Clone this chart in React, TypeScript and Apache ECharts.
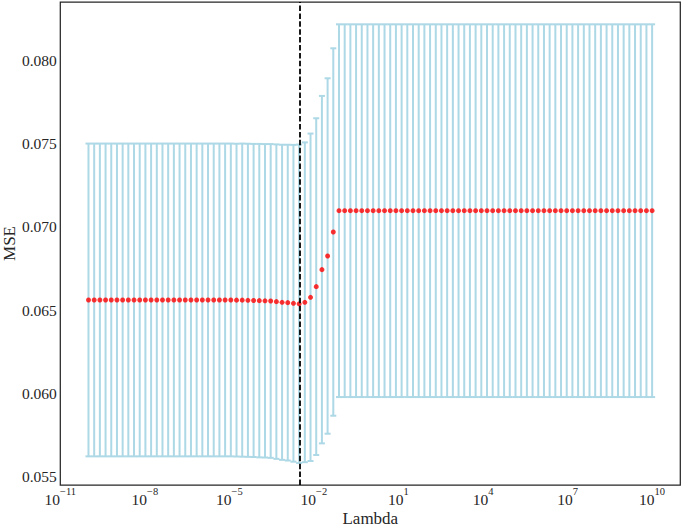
import React, { useEffect, useRef } from "react";
import * as echarts from "echarts";

// log10(lambda) grid of the cross-validation path
const logLambda = [
  -10.0, -9.798, -9.596, -9.394, -9.192, -8.99, -8.788, -8.586, -8.384, -8.182,
  -7.98, -7.778, -7.576, -7.374, -7.172, -6.97, -6.768, -6.566, -6.364, -6.162,
  -5.96, -5.758, -5.556, -5.354, -5.152, -4.949, -4.747, -4.545, -4.343, -4.141,
  -3.939, -3.737, -3.535, -3.333, -3.131, -2.929, -2.727, -2.525, -2.323, -2.121,
  -1.919, -1.717, -1.515, -1.313, -1.111, -0.909, -0.707, -0.505, -0.303, -0.101,
  0.101, 0.303, 0.505, 0.707, 0.909, 1.111, 1.313, 1.515, 1.717, 1.919,
  2.121, 2.323, 2.525, 2.727, 2.929, 3.131, 3.333, 3.535, 3.737, 3.939,
  4.141, 4.343, 4.545, 4.747, 4.949, 5.152, 5.354, 5.556, 5.758, 5.96,
  6.162, 6.364, 6.566, 6.768, 6.97, 7.172, 7.374, 7.576, 7.778, 7.98,
  8.182, 8.384, 8.586, 8.788, 8.99, 9.192, 9.394, 9.596, 9.798, 10.0,
];

// mean MSE across folds
const meanMSE = [
  0.06561, 0.06561, 0.06561, 0.06561, 0.06561, 0.06561, 0.06561, 0.06561, 0.06561, 0.06561,
  0.06561, 0.06561, 0.06561, 0.06561, 0.06561, 0.06561, 0.06561, 0.06561, 0.06561, 0.06561,
  0.06561, 0.06561, 0.06561, 0.06561, 0.06561, 0.06561, 0.0656, 0.0656, 0.06559, 0.06558,
  0.06557, 0.06556, 0.06555, 0.06551, 0.06547, 0.06545, 0.06541, 0.06538, 0.06547, 0.06577,
  0.06641, 0.06743, 0.06825, 0.06969, 0.07097, 0.07097, 0.07097, 0.07097, 0.07097, 0.07097,
  0.07097, 0.07097, 0.07097, 0.07097, 0.07097, 0.07097, 0.07097, 0.07097, 0.07097, 0.07097,
  0.07097, 0.07097, 0.07097, 0.07097, 0.07097, 0.07097, 0.07097, 0.07097, 0.07097, 0.07097,
  0.07097, 0.07097, 0.07097, 0.07097, 0.07097, 0.07097, 0.07097, 0.07097, 0.07097, 0.07097,
  0.07097, 0.07097, 0.07097, 0.07097, 0.07097, 0.07097, 0.07097, 0.07097, 0.07097, 0.07097,
  0.07097, 0.07097, 0.07097, 0.07097, 0.07097, 0.07097, 0.07097, 0.07097, 0.07097, 0.07097,
];

// error bar half-width (std of MSE across folds)
const stdMSE = [
  0.00939, 0.00939, 0.00939, 0.00939, 0.00939, 0.00939, 0.00939, 0.00939, 0.00939, 0.00939,
  0.00939, 0.00939, 0.00939, 0.00939, 0.00939, 0.00939, 0.00939, 0.00939, 0.00939, 0.00939,
  0.00939, 0.00939, 0.00939, 0.00939, 0.00939, 0.00939, 0.00939, 0.0094, 0.0094, 0.0094,
  0.00941, 0.00941, 0.00942, 0.00944, 0.00946, 0.00948, 0.00951, 0.00956, 0.0096, 0.00983,
  0.01011, 0.01043, 0.01067, 0.01103, 0.01119, 0.01119, 0.01119, 0.01119, 0.01119, 0.01119,
  0.01119, 0.01119, 0.01119, 0.01119, 0.01119, 0.01119, 0.01119, 0.01119, 0.01119, 0.01119,
  0.01119, 0.01119, 0.01119, 0.01119, 0.01119, 0.01119, 0.01119, 0.01119, 0.01119, 0.01119,
  0.01119, 0.01119, 0.01119, 0.01119, 0.01119, 0.01119, 0.01119, 0.01119, 0.01119, 0.01119,
  0.01119, 0.01119, 0.01119, 0.01119, 0.01119, 0.01119, 0.01119, 0.01119, 0.01119, 0.01119,
  0.01119, 0.01119, 0.01119, 0.01119, 0.01119, 0.01119, 0.01119, 0.01119, 0.01119, 0.01119,
];

const bestLogLambda = -2.525;

const xMin = -11;
const xMax = 11;
const xLabelExponents = [-11, -8, -5, -2, 1, 4, 7, 10];
const yMin = 0.0545;
const yMax = 0.0835;
const yLabelValues = [0.055, 0.06, 0.065, 0.07, 0.075, 0.08];

const FONT = "Liberation Serif";
const TEXT = "#262626";

export default function App() {
  const ref = useRef<HTMLDivElement>(null);

  useEffect(() => {
    if (!ref.current) return;
    const chart = echarts.init(ref.current, undefined, { renderer: "svg" });

    const errData = logLambda.map((x, i) => [x, meanMSE[i] - stdMSE[i], meanMSE[i] + stdMSE[i]]);
    const meanData = logLambda.map((x, i) => [x, meanMSE[i]]);

    const option: any = {
      animation: false,
      backgroundColor: "#ffffff",
      textStyle: { fontFamily: FONT },
      grid: {
        left: 60.3,
        right: 2.7,
        top: 2,
        bottom: 42,
        containLabel: false,
        outerBoundsMode: "none",
        show: true,
        borderColor: TEXT,
        borderWidth: 1.25,
        backgroundColor: "transparent",
      },
      xAxis: {
        type: "value",
        min: xMin,
        max: xMax,
        interval: 1,
        name: "Lambda",
        nameLocation: "middle",
        nameGap: 25,
        nameMoveOverlap: false,
        nameTextStyle: { fontFamily: FONT, fontSize: 17, color: TEXT, lineHeight: 17 },
        axisLine: { show: false },
        axisTick: { show: false },
        splitLine: { show: false },
        axisLabel: {
          margin: 0.5,
          color: TEXT,
          fontFamily: FONT,
          fontSize: 15.5,
          formatter: (v: number) => {
            const k = Math.round(v);
            if (xLabelExponents.indexOf(k) < 0) return "";
            const e = (k < 0 ? "\u2212" : "") + Math.abs(k);
            return `{b|10}{e|${e}}`;
          },
          rich: {
            b: { fontFamily: FONT, fontSize: 15.5, lineHeight: 21.5, color: TEXT, verticalAlign: "bottom" },
            e: { fontFamily: FONT, fontSize: 10.5, lineHeight: 12, color: TEXT, verticalAlign: "top" },
          },
        },
      },
      yAxis: {
        type: "value",
        min: yMin,
        max: yMax,
        interval: 0.0005,
        name: "MSE",
        nameLocation: "middle",
        nameGap: 42,
        nameMoveOverlap: false,
        nameTextStyle: { fontFamily: FONT, fontSize: 17, color: TEXT, lineHeight: 17 },
        axisLine: { show: false },
        axisTick: { show: false },
        splitLine: { show: false },
        axisLabel: {
          margin: 3.5,
          color: TEXT,
          fontFamily: FONT,
          fontSize: 15.5,
          formatter: (v: number) => {
            for (const t of yLabelValues) {
              if (Math.abs(v - t) < 1e-7) return t.toFixed(3);
            }
            return "";
          },
        },
      },
      series: [
        {
          type: "custom",
          name: "std",
          z: 1,
          data: errData,
          encode: { x: 0, y: [1, 2] },
          renderItem: (params: any, api: any) => {
            const x = api.value(0);
            const lo = api.coord([x, api.value(1)]);
            const hi = api.coord([x, api.value(2)]);
            const cap = 3;
            const style = { stroke: "#add8e6", lineWidth: 2, fill: "none" };
            return {
              type: "group",
              children: [
                { type: "line", shape: { x1: lo[0], y1: lo[1], x2: hi[0], y2: hi[1] }, style },
                { type: "line", shape: { x1: lo[0] - cap, y1: lo[1], x2: lo[0] + cap, y2: lo[1] }, style },
                { type: "line", shape: { x1: hi[0] - cap, y1: hi[1], x2: hi[0] + cap, y2: hi[1] }, style },
              ],
            };
          },
        },
        {
          type: "scatter",
          name: "mean",
          z: 3,
          symbol: "circle",
          symbolSize: 5,
          itemStyle: { color: "#ff0000" },
          data: meanData,
          markLine: {
            silent: true,
            symbol: "none",
            label: { show: false },
            lineStyle: { color: "#000000", width: 1.8, type: [5.5, 2.4] },
            data: [{ xAxis: bestLogLambda }],
          },
        },
      ],
    };

    chart.setOption(option);
    return () => chart.dispose();
  }, []);

  return (
    <div
      ref={ref}
      style={{ position: "fixed", left: 0, top: 0, width: 683, height: 527, background: "#fff" }}
    />
  );
}
